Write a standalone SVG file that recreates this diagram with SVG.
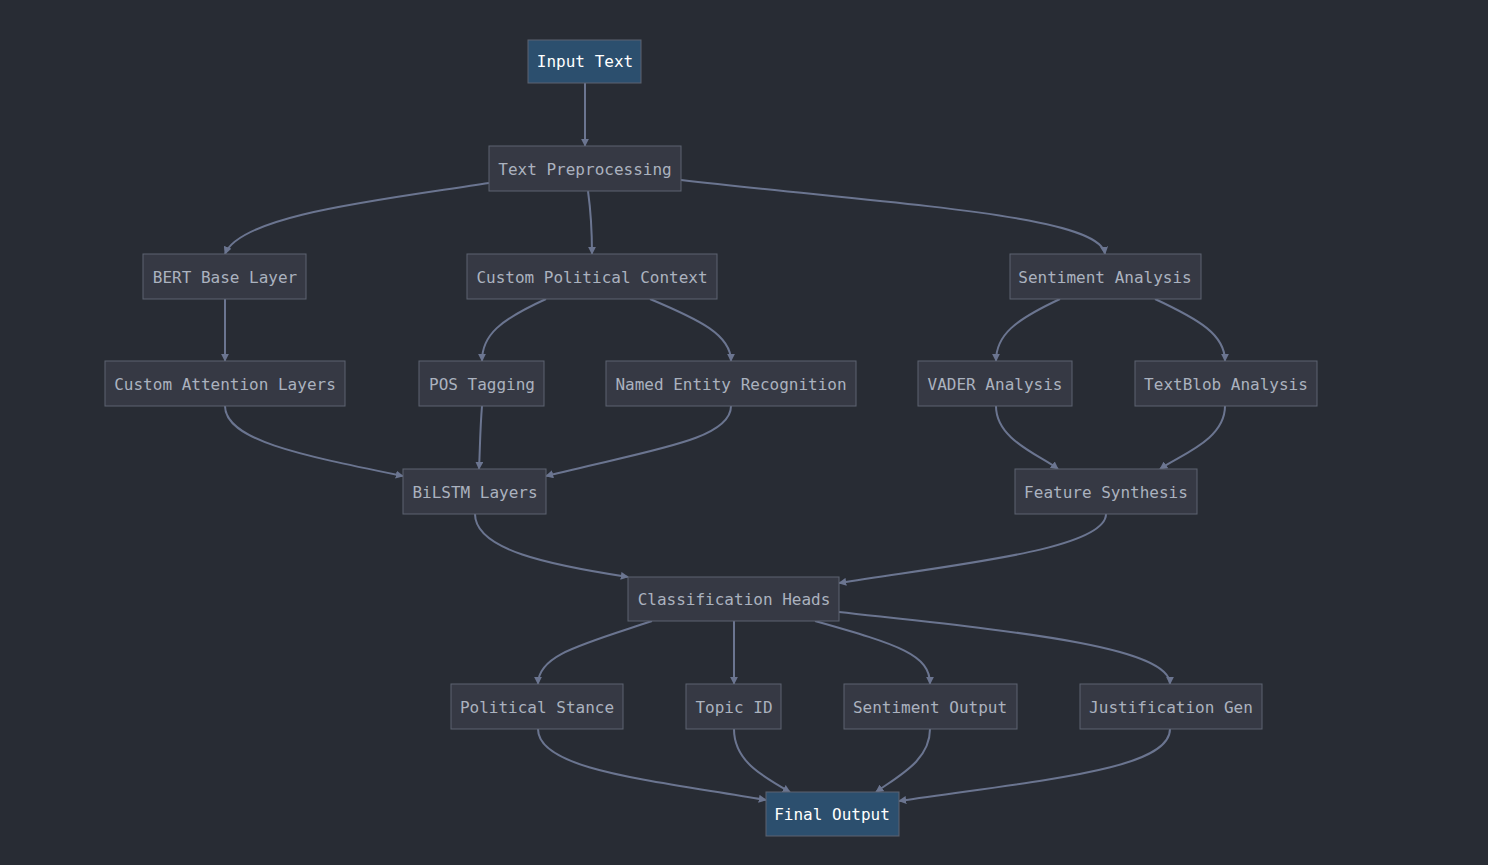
<svg xmlns="http://www.w3.org/2000/svg" width="1488" height="865" viewBox="0 0 1488 865">
<defs>
<marker id="a" viewBox="0 0 10 10" refX="9" refY="5" markerWidth="8" markerHeight="8" markerUnits="userSpaceOnUse" orient="auto"><path d="M0,0L10,5L0,10z" fill="#6b7590"/></marker>
<style>
.n rect{fill:#363944;stroke:#5c6370;stroke-width:1}
.n text{fill:#abb2bf;font-family:"DejaVu Sans Mono",monospace;font-size:16px;text-anchor:middle;dominant-baseline:central}
.h rect{fill:#2c4f6e}
.h text{fill:#ffffff}
#edges path{fill:none;stroke:#6b7590;stroke-width:2;marker-end:url(#a)}
</style>
</defs>
<rect width="1488" height="865" fill="#282c34"/>
<g id="edges">
<path d="M585,83V146"/>
<path d="M489,183C380,200,240,215,225,254"/>
<path d="M588,191C592,220,592,235,592,254"/>
<path d="M681,180C900,205,1100,215,1105,254"/>
<path d="M225,299V361"/>
<path d="M546,299C500,320,482,335,482,361"/>
<path d="M650,299C700,320,731,335,731,361"/>
<path d="M1060,299C1015,320,996,335,996,361"/>
<path d="M1155,299C1200,320,1225,335,1225,361"/>
<path d="M225,406C225,440,300,455,403,476"/>
<path d="M482,406C480,430,480,450,479,469"/>
<path d="M731,406C731,440,650,450,546,476"/>
<path d="M996,406C996,440,1040,455,1058,469"/>
<path d="M1225,406C1225,440,1180,455,1160,469"/>
<path d="M475,514C475,550,550,565,628,577"/>
<path d="M1106,514C1106,550,950,565,839,583"/>
<path d="M652,621C580,645,538,655,538,684"/>
<path d="M734,621V684"/>
<path d="M815,621C900,645,930,655,930,684"/>
<path d="M839,612C1000,630,1170,645,1170,684"/>
<path d="M538,729C538,770,650,780,766,800"/>
<path d="M734,729C734,760,760,775,790,792"/>
<path d="M930,729C930,760,900,775,876,792"/>
<path d="M1170,729C1170,770,1040,780,899,801"/>
</g>
<g id="input" class="n h"><rect x="528" y="40" width="113" height="43"/><text x="585" y="61">Input Text</text></g>
<g id="prep" class="n"><rect x="489" y="146" width="192" height="45"/><text x="585" y="169">Text Preprocessing</text></g>
<g id="bert" class="n"><rect x="143" y="254" width="163" height="45"/><text x="225" y="277">BERT Base Layer</text></g>
<g id="cpc" class="n"><rect x="467" y="254" width="250" height="45"/><text x="592" y="277">Custom Political Context</text></g>
<g id="sa" class="n"><rect x="1010" y="254" width="191" height="45"/><text x="1105" y="277">Sentiment Analysis</text></g>
<g id="cal" class="n"><rect x="105" y="361" width="240" height="45"/><text x="225" y="384">Custom Attention Layers</text></g>
<g id="pos" class="n"><rect x="419" y="361" width="125" height="45"/><text x="482" y="384">POS Tagging</text></g>
<g id="ner" class="n"><rect x="606" y="361" width="250" height="45"/><text x="731" y="384">Named Entity Recognition</text></g>
<g id="vader" class="n"><rect x="918" y="361" width="154" height="45"/><text x="995" y="384">VADER Analysis</text></g>
<g id="tb" class="n"><rect x="1135" y="361" width="182" height="45"/><text x="1226" y="384">TextBlob Analysis</text></g>
<g id="bilstm" class="n"><rect x="403" y="469" width="143" height="45"/><text x="475" y="492">BiLSTM Layers</text></g>
<g id="fs" class="n"><rect x="1015" y="469" width="182" height="45"/><text x="1106" y="492">Feature Synthesis</text></g>
<g id="ch" class="n"><rect x="628" y="577" width="211" height="44"/><text x="734" y="599">Classification Heads</text></g>
<g id="ps" class="n"><rect x="451" y="684" width="172" height="45"/><text x="537" y="707">Political Stance</text></g>
<g id="tid" class="n"><rect x="686" y="684" width="95" height="45"/><text x="734" y="707">Topic ID</text></g>
<g id="so" class="n"><rect x="844" y="684" width="173" height="45"/><text x="930" y="707">Sentiment Output</text></g>
<g id="jg" class="n"><rect x="1080" y="684" width="182" height="45"/><text x="1171" y="707">Justification Gen</text></g>
<g id="final" class="n h"><rect x="766" y="792" width="133" height="44"/><text x="832" y="814">Final Output</text></g>
</svg>
